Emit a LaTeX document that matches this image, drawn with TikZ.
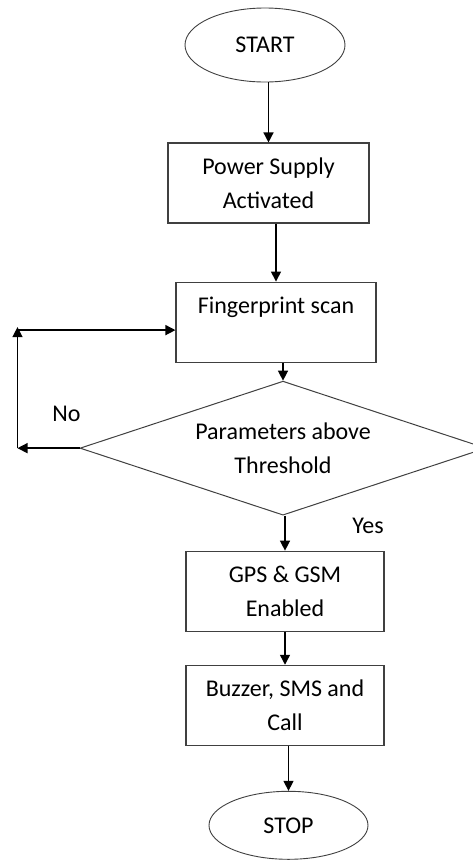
\documentclass[tikz,border=0pt]{standalone}
\usepackage{fontspec}
\setmainfont{Carlito}
\usepackage{tikz}
\usetikzlibrary{positioning,shapes.geometric,arrows.meta}
\tikzstyle{terminal}=[ellipse, draw=black!75, line width=0.9pt, text centered, text=black, inner sep=0pt]
\tikzstyle{process}=[rectangle, draw=black!75, line width=1.1pt, align=center, text=black, minimum width=199pt, minimum height=80pt, inner sep=0pt]
\tikzstyle{decision}=[diamond, shape aspect=3.03, draw=black!75, line width=1pt, align=center, text=black, minimum width=406pt, minimum height=134pt, inner sep=0pt]
\tikzset{>={Triangle[length=10pt,width=10pt]}}

\begin{document}
\begin{tikzpicture}[x=1pt, y=1pt, font=\fontsize{24}{33.5}\selectfont, every path/.style={line width=1.4pt}]
    \useasboundingbox (0,0) rectangle (472,-863);

        \node(start)[terminal, minimum width=160pt, minimum height=74pt] at (265,-45) {START};
        \node(power)[process, below=60pt of start, xshift=3.5pt, minimum width=201pt]{Power Supply\\Activated};
        \node(scan)[process, below=58pt of power, xshift=7.5pt, minimum width=200pt]{Fingerprint scan\\\mbox{}};
        \node(check)[decision, below=18pt of scan, xshift=7pt]{Parameters above\\Threshold};
        \node(gps)[process, below=35pt of check, xshift=2pt, minimum width=198pt]{GPS \& GSM\\Enabled};
        \node(alert)[process, below=33pt of gps, minimum width=198pt]{Buzzer, SMS and\\Call};
        \node(stop)[terminal, below=45pt of alert, xshift=3.5pt, minimum width=159pt, minimum height=68pt]{STOP};

        \draw [->] (power.north |- start.south) -- (power.north);
        \draw [->] (scan.north |- power.south) -- (scan.north);
        \draw [->] (check.north |- scan.south) -- (check.north);
        \draw [->] (gps.north |- check.south) -- (gps.north);
        \draw [->] (alert.north |- gps.south) -- (alert.north);
        \draw [->] (stop.north |- alert.south) -- (stop.north);

        % back to the scan when the check fails
        \coordinate (noLeft) at ([xshift=-62pt]check.west);
        \coordinate (noUp) at ([yshift=-8pt]scan.west -| noLeft);
        \draw [->] (check.west) -- (noLeft);
        \draw [->] (noLeft) -- ([yshift=3pt]noUp);
        \draw [->] (noUp) -- (noUp -| scan.west);

        \node (noDesc) at ([xshift=-13pt, yshift=34pt]check.west) {No};
        \node (yesDesc) at ([xshift=85pt, yshift=-10pt]check.south) {Yes};

    \end{tikzpicture}
\end{document}
